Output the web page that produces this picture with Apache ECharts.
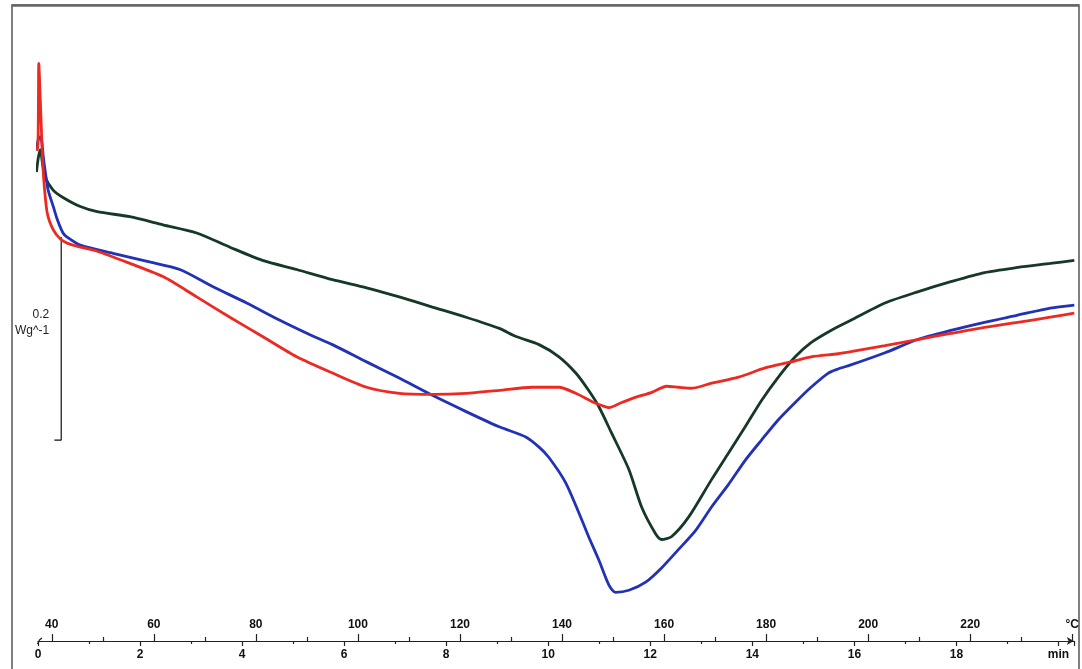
<!DOCTYPE html>
<html>
<head>
<meta charset="utf-8">
<style>
  html, body { margin: 0; padding: 0; background: #ffffff; }
  #chart { width: 1082px; height: 669px; }
</style>
<script src="https://cdn.jsdelivr.net/npm/echarts@6/dist/echarts.min.js"></script>
</head>
<body>
<div id="chart"></div>
<script>
// ---- DATA: time (min) vs heat flow (W/g, arbitrary offset) ----
const redCurve = [
  [-0.08,0.486],[-0.01,0.484],[0.016,0.569],[0.045,0.533],[0.074,0.494],[0.104,0.461],
  [0.18,0.422],[0.30,0.405],[0.44,0.396],[0.57,0.392],[0.83,0.388],[1.16,0.384],
  [1.80,0.372],[2.45,0.359],[3.11,0.339],[3.76,0.319],[4.40,0.300],[5.07,0.280],
  [5.77,0.264],[6.44,0.250],[7.08,0.244],[7.73,0.243],[8.39,0.244],[9.04,0.247],
  [9.68,0.250],[10.21,0.250],[10.54,0.244],[10.85,0.236],[11.05,0.232],[11.19,0.230],
  [11.44,0.235],[11.71,0.240],[12.03,0.245],[12.32,0.251],[12.55,0.250],[12.81,0.249],
  [13.20,0.254],[13.73,0.260],[14.25,0.269],[14.76,0.275],[15.15,0.280],[15.68,0.283],
  [15.93,0.285],[16.60,0.291],[17.24,0.297],[17.89,0.303],[18.55,0.309],[19.20,0.314],
  [19.84,0.319],[20.31,0.323]
];
const blueCurve = [
  [-0.03,0.484],[0.006,0.494],[0.045,0.497],[0.074,0.492],[0.104,0.477],[0.143,0.462],
  [0.20,0.444],[0.30,0.428],[0.38,0.415],[0.49,0.402],[0.57,0.398],[0.83,0.390],
  [1.47,0.382],[2.14,0.374],[2.78,0.366],[3.43,0.349],[4.09,0.333],[4.74,0.316],
  [5.32,0.302],[5.77,0.292],[6.44,0.275],[7.08,0.259],[7.73,0.242],[8.39,0.226],
  [9.04,0.211],[9.56,0.201],[9.82,0.191],[10.01,0.181],[10.34,0.156],[10.66,0.119],
  [10.79,0.103],[10.99,0.080],[11.19,0.055],[11.32,0.048],[11.58,0.050],[11.91,0.058],
  [12.22,0.072],[12.55,0.090],[12.89,0.109],[13.20,0.132],[13.53,0.154],[13.86,0.178],
  [14.18,0.198],[14.51,0.218],[14.84,0.235],[15.15,0.250],[15.49,0.264],[15.68,0.268],
  [15.93,0.272],[16.60,0.284],[17.24,0.297],[17.89,0.306],[18.55,0.314],[19.20,0.321],
  [19.84,0.328],[20.31,0.331]
];
const greenCurve = [
  [-0.03,0.462],[0.006,0.476],[0.045,0.484],[0.084,0.472],[0.143,0.457],[0.30,0.444],
  [0.49,0.437],[0.83,0.428],[1.16,0.423],[1.80,0.418],[2.45,0.410],[3.11,0.402],
  [3.76,0.388],[4.40,0.375],[5.07,0.366],[5.77,0.356],[6.44,0.348],[7.08,0.339],
  [7.73,0.329],[8.39,0.319],[9.04,0.308],[9.37,0.300],[9.82,0.292],[10.21,0.280],
  [10.54,0.264],[10.79,0.247],[10.99,0.231],[11.24,0.205],[11.58,0.169],[11.83,0.132],
  [12.10,0.106],[12.22,0.100],[12.42,0.103],[12.75,0.122],[13.20,0.159],[13.53,0.185],
  [13.86,0.211],[14.18,0.237],[14.51,0.260],[14.84,0.280],[15.15,0.294],[15.54,0.306],
  [15.93,0.316],[16.60,0.333],[17.24,0.344],[17.89,0.354],[18.55,0.363],[19.20,0.368],
  [19.84,0.372],[20.31,0.375]
];
// scale bar: 0.2 W/g
const scaleBar = [[0.455,0.398],[0.455,0.198],[0.32,0.198]];
const scaleLabel = ['0.2', 'Wg^-1'];

// axis ticks
const timeMin = 0, timeMax = 20.3, timeInterval = 2;
const tempStart = 37.3, heatingRate = 10;          // °C at t=0, °C/min
const tempMajor = [40,60,80,100,120,140,160,180,200,220,240];
const tempMinor = [50,70,90,110,130,150,170,190,210,230];
const tempUnitLabel = '°C', timeUnitLabel = 'min';

const chart = echarts.init(document.getElementById('chart'), null, {renderer: 'canvas'});
const labelFont = {fontFamily: 'Liberation Sans, Arial, sans-serif', fontSize: 12, color: '#111'};
const tempMax = tempStart + heatingRate * timeMax;

const lineSeries = (name, data, color) => ({
  name, type: 'line', data, xAxisIndex: 0, yAxisIndex: 0,
  showSymbol: false, symbol: 'none', smooth: 0.25, clip: false,
  lineStyle: {color, width: 2.8}, z: 3
});

chart.setOption({
  animation: false,
  backgroundColor: '#ffffff',
  grid: {left: 38, right: 5, top: 32, bottom: 28, containLabel: false},
  xAxis: [
    { type: 'value', min: timeMin, max: timeMax, interval: timeInterval, position: 'bottom',
      axisLine: {onZero: false, lineStyle: {color: '#222', width: 1.2}, symbol: ['none','arrow'], symbolSize: [6,7]},
      axisTick: {show: true, length: 5, lineStyle: {color: '#222', width: 1.2}},
      minorTick: {show: true, splitNumber: 2, length: 3, lineStyle: {color: '#222', width: 1.2}},
      splitLine: {show: false},
      axisLabel: Object.assign({margin: 8, fontWeight: 'bold',
        formatter: v => (Math.abs(v - 20) < 1e-6 ? timeUnitLabel : String(v))}, labelFont)
    },
    { type: 'value', min: tempStart, max: tempMax, position: 'bottom',
      axisLine: {show: false, onZero: false},
      axisTick: {show: true, inside: true, length: 7, customValues: tempMajor, lineStyle: {color: '#222', width: 1.2}},
      splitLine: {show: false},
      axisLabel: Object.assign({inside: true, margin: 10, fontWeight: 'bold', customValues: tempMajor,
        formatter: v => (v === 240 ? tempUnitLabel : String(v))}, labelFont)
    },
    { type: 'value', min: tempStart, max: tempMax, position: 'bottom',
      axisLine: {show: false, onZero: false},
      axisTick: {show: true, inside: true, length: 4, customValues: tempMinor, lineStyle: {color: '#222', width: 1.2}},
      splitLine: {show: false},
      axisLabel: {show: false}
    }
  ],
  yAxis: { type: 'value', min: 0, max: 0.6, show: false, splitLine: {show: false} },
  series: [
    lineSeries('green', greenCurve, '#163826'),
    lineSeries('blue', blueCurve, '#2232b4'),
    lineSeries('red', redCurve, '#ec2a22'),
    { name: 'scale', type: 'line', data: scaleBar, showSymbol: false, symbol: 'none',
      clip: false, lineStyle: {color: '#111', width: 1.2}, z: 2 }
  ]
});

// decorations: frame, axis break mark, scale-bar label
const p0 = chart.convertToPixel({xAxisIndex: 0, yAxisIndex: 0}, [timeMin, 0]);
const pTop = chart.convertToPixel({xAxisIndex: 0, yAxisIndex: 0}, scaleBar[0]);
const pBot = chart.convertToPixel({xAxisIndex: 0, yAxisIndex: 0}, scaleBar[1]);
const midY = (pTop[1] + pBot[1]) / 2;
chart.setOption({
  graphic: [
    { type: 'rect', shape: {x: 12, y: 5, width: 1067, height: 680}, silent: true,
      style: {fill: 'none', stroke: '#555', lineWidth: 1.5}, z: 0 },
    { type: 'line', shape: {x1: 12, y1: 5.5, x2: 1079, y2: 5.5}, silent: true,
      style: {stroke: '#666', lineWidth: 2.5}, z: 1 },
    { type: 'polyline', shape: {points: [[p0[0] - 0.5, p0[1] + 3], [p0[0] + 1.5, p0[1] - 1], [p0[0] + 4, p0[1] - 3]]},
      silent: true, style: {stroke: '#222', lineWidth: 1.2, fill: 'none'}, z: 5 },
    { type: 'text', x: pTop[0] - 12, y: midY - 24, silent: true,
      style: {text: scaleLabel[0], align: 'right', verticalAlign: 'middle',
              font: '12px "Liberation Sans", Arial, sans-serif', fill: '#222'} },
    { type: 'text', x: pTop[0] - 12, y: midY - 8, silent: true,
      style: {text: scaleLabel[1], align: 'right', verticalAlign: 'middle',
              font: '12px "Liberation Sans", Arial, sans-serif', fill: '#222'} }
  ]
});
</script>
</body>
</html>
